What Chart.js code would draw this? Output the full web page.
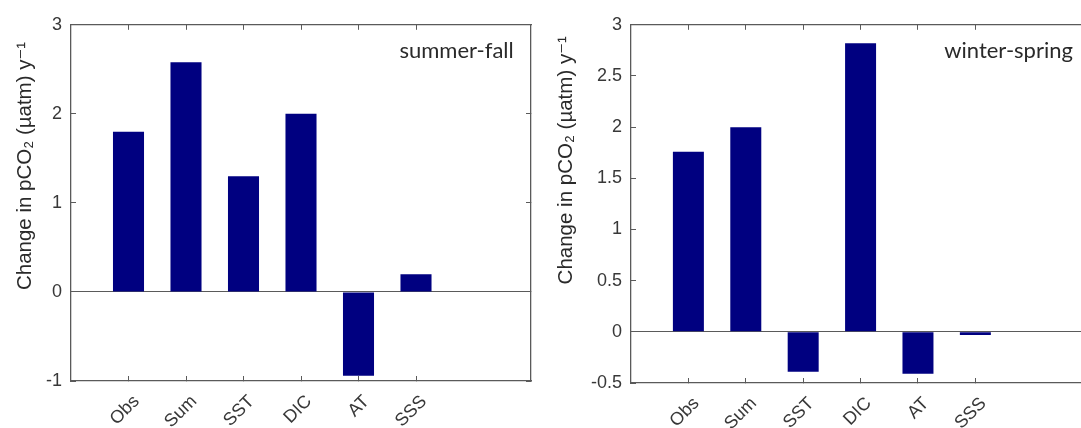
<!DOCTYPE html>
<html>
<head>
<meta charset="utf-8">
<script src="https://cdn.jsdelivr.net/npm/chart.js@4.4.1/dist/chart.umd.min.js"></script>
<style>
  html, body { margin: 0; padding: 0; background: #ffffff; overflow: hidden; width: 1081px; height: 428px; }
  canvas { position: absolute; top: 0; }
  #c1 { left: 0px; }
  #c2 { left: 540px; }
</style>
</head>
<body>
<canvas id="c1" width="540" height="428"></canvas>
<canvas id="c2" width="580" height="428"></canvas>
<script>
// ---- data ----
const categories = ['Obs', 'Sum', 'SST', 'DIC', 'AT', 'SSS'];
const categoryPositions = [1, 2, 3, 4, 5, 6];
const summerFallValues = [1.80, 2.58, 1.30, 2.00, -0.94, 0.20];
const winterSpringValues = [1.76, 2.00, -0.39, 2.82, -0.41, -0.03];
const summerFallYTicks = [-1, 0, 1, 2, 3];
const summerFallYTickLabels = ['-1', '0', '1', '2', '3'];
const winterSpringYTicks = [-0.5, 0, 0.5, 1, 1.5, 2, 2.5, 3];
const winterSpringYTickLabels = ['-0.5', '0', '0.5', '1', '1.5', '2', '2.5', '3'];
const panelLabels = ['summer-fall', 'winter-spring'];
const yAxisTitle = 'Change in pCO\u2082 (\u00B5atm) y\u207B\u00B9';

const AXIS = '#5a5a5a';
const TEXT = '#383838';
const BAR = '#000080';
const TICKFONT = "'Liberation Sans', Arial, 'DejaVu Sans', sans-serif";

const panelLabelPlugin = {
  id: 'panelLabel',
  afterDraw(chart, args, opts) {
    const ctx = chart.ctx;
    const xs = chart.scales.x;
    ctx.save();
    ctx.font = opts.font;
    ctx.fillStyle = '#2a2a2a';
    ctx.textAlign = 'right';
    ctx.textBaseline = 'alphabetic';
    ctx.fillText(opts.text, xs.getPixelForValue(opts.xValue), chart.chartArea.top + opts.dy);
    ctx.restore();
  }
};

function makePanel(id, values, yMin, yMax, yTicks, yTickLabels, xMax, label, geo) {
  const points = categoryPositions.map((x, i) => ({ x: x, y: values[i] }));
  const setXTicks = (s) => { s.ticks = categoryPositions.map(v => ({ value: v })); };
  const setYTicks = (s) => { s.ticks = yTicks.map(v => ({ value: v })); };
  return new Chart(document.getElementById(id), {
    type: 'bar',
    data: {
      datasets: [{
        data: points,
        backgroundColor: BAR,
        borderWidth: 0,
        barPercentage: 0.54,
        categoryPercentage: 1.0
      }]
    },
    options: {
      responsive: false,
      animation: false,
      devicePixelRatio: 1,
      layout: { padding: { top: geo.padTop, right: geo.padRight, bottom: 0, left: 0 } },
      plugins: {
        legend: { display: false },
        tooltip: { enabled: false },
        panelLabel: { text: label, xValue: 7.7, dy: 33, font: "22px Lato, 'Open Sans', sans-serif" }
      },
      scales: {
        x: {
          type: 'linear', position: 'bottom', min: 0, max: xMax, offset: false,
          afterBuildTicks: setXTicks,
          afterFit: (s) => { s.height = geo.xHeight; },
          grid: { offset: false, drawOnChartArea: false, drawTicks: true, tickLength: -5, tickColor: AXIS, lineWidth: 1 },
          border: { display: true, color: AXIS, width: 1.3 },
          ticks: {
            autoSkip: false, maxRotation: 45, minRotation: 45,
            padding: 15, labelOffset: 8,
            color: TEXT, font: { family: TICKFONT, size: 18 },
            callback: (v) => { const i = categoryPositions.indexOf(v); return i >= 0 ? categories[i] : ''; }
          }
        },
        x2: {
          type: 'linear', position: 'top', min: 0, max: xMax, offset: false,
          afterBuildTicks: setXTicks,
          afterFit: (s) => { s.height = 0; },
          grid: { offset: false, drawOnChartArea: false, drawTicks: true, tickLength: -5, tickColor: AXIS },
          border: { display: true, color: AXIS, width: 1.3 },
          ticks: { display: false }
        },
        y: {
          type: 'linear', position: 'left', min: yMin, max: yMax,
          afterBuildTicks: setYTicks,
          afterFit: (s) => { s.width = geo.yWidth; },
          grid: {
            drawOnChartArea: true, drawTicks: true, tickLength: -5, tickColor: AXIS,
            color: (c) => (c.tick && c.tick.value === 0 ? AXIS : 'rgba(0,0,0,0)'), lineWidth: 1
          },
          border: { display: true, color: AXIS, width: 1.3 },
          ticks: {
            padding: 14, color: TEXT, font: { family: TICKFONT, size: 18 },
            callback: (v) => { const i = yTicks.indexOf(v); return i >= 0 ? yTickLabels[i] : ''; }
          },
          title: {
            display: true, text: yAxisTitle + ' '.repeat(geo.titleGap), align: 'end',
            color: '#2a2a2a', font: { family: TICKFONT, size: 20.5 },
            padding: { top: geo.titlePad, bottom: 0 }
          }
        },
        y2: {
          type: 'linear', position: 'right', min: yMin, max: yMax,
          afterBuildTicks: setYTicks,
          afterFit: (s) => { s.width = 0; },
          grid: { drawOnChartArea: false, drawTicks: true, tickLength: -5, tickColor: AXIS },
          border: { display: true, color: AXIS, width: 1.3 },
          ticks: { display: false }
        }
      }
    },
    plugins: [panelLabelPlugin]
  });
}

makePanel('c1', summerFallValues, -1, 3, summerFallYTicks, summerFallYTickLabels, 8, panelLabels[0],
  { padTop: 22, padRight: 9, yWidth: 71, xHeight: 47, titlePad: 13, titleGap: 3 });
makePanel('c2', winterSpringValues, -0.5, 3, winterSpringYTicks, winterSpringYTickLabels, 8.52, panelLabels[1],
  { padTop: 23, padRight: 0, yWidth: 91, xHeight: 45, titlePad: 14, titleGap: 2 });
</script>
</body>
</html>
